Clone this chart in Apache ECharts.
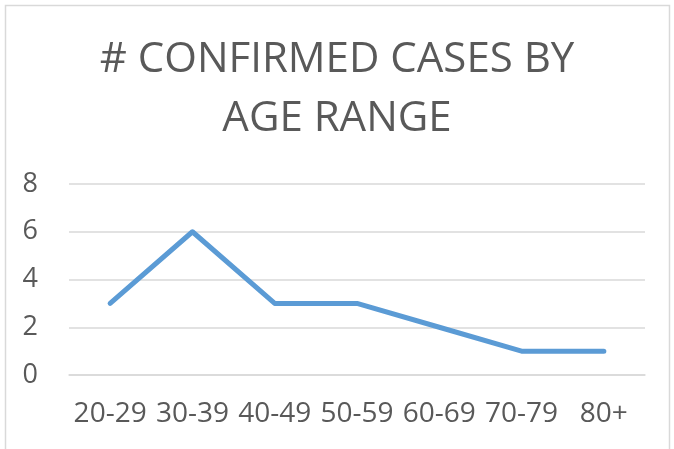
<!DOCTYPE html>
<html>
<head>
<meta charset="utf-8">
<script src="https://cdn.jsdelivr.net/npm/echarts@6/dist/echarts.min.js"></script>
<style>
html,body{margin:0;padding:0;background:#fff;}
#chart{width:674px;height:449px;}
</style>
</head>
<body>
<div id="chart"></div>
<script>
const categories = ['20-29','30-39','40-49','50-59','60-69','70-79','80+'];
const cases = [3, 6, 3, 3, 2, 1, 1];
const yTicks = { min: 0, max: 8, interval: 2 };
const titleText = '# CONFIRMED CASES BY\nAGE RANGE';

const chart = echarts.init(document.getElementById('chart'), null, { renderer: 'canvas' });
chart.setOption({
  backgroundColor: '#ffffff',
  animation: false,
  graphic: [{
    type: 'rect',
    shape: { x: 5.5, y: 5.5, width: 664, height: 460 },
    style: { fill: 'none', stroke: '#D9D9D9', lineWidth: 1.5 },
    silent: true
  }],
  title: {
    text: titleText,
    left: 'center',
    top: 31,
    padding: 0,
    textStyle: {
      fontFamily: 'Open Sans',
      fontSize: 42,
      lineHeight: 59,
      fontWeight: 'normal',
      color: '#595959'
    }
  },
  grid: { left: 69, right: 29, top: 184, bottom: 74 },
  xAxis: {
    type: 'category',
    data: categories,
    boundaryGap: true,
    axisLine: { show: true, lineStyle: { color: '#D9D9D9', width: 1.5 } },
    axisTick: { show: false },
    axisLabel: {
      fontFamily: 'Open Sans',
      fontSize: 28,
      color: '#595959',
      margin: 25,
      interval: 0
    },
    splitLine: { show: false }
  },
  yAxis: {
    type: 'value',
    min: yTicks.min,
    max: yTicks.max,
    interval: yTicks.interval,
    axisLine: { show: false },
    axisTick: { show: false },
    axisLabel: {
      fontFamily: 'Open Sans',
      fontSize: 27,
      color: '#595959',
      margin: 31
    },
    splitLine: { lineStyle: { color: '#D9D9D9', width: 1.5 } }
  },
  series: [{
    type: 'line',
    data: cases,
    symbol: 'none',
    lineStyle: { color: '#5B9BD5', width: 5, cap: 'round', join: 'round' },
    itemStyle: { color: '#5B9BD5' }
  }]
});
</script>
</body>
</html>
